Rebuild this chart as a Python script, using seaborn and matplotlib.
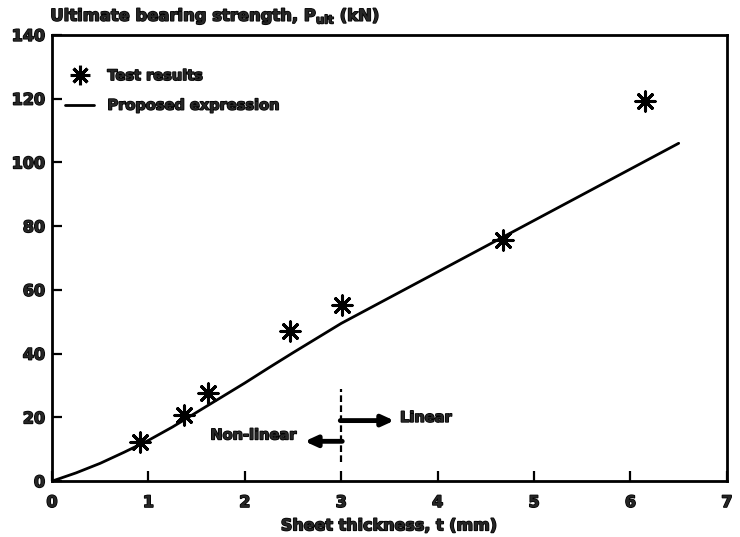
import matplotlib
matplotlib.use("Agg")
import matplotlib.pyplot as plt
import matplotlib.patheffects as pe
from matplotlib.lines import Line2D
import seaborn as sns
import pandas as pd

# Measured ultimate bearing strength
test_t = [0.91, 1.37, 1.62, 2.47, 3.01, 4.68, 6.15]
test_p = [12.2, 20.6, 27.6, 47.0, 55.3, 75.5, 119.2]

# Proposed design expression (non-linear up to t = 3 mm, linear beyond)
expr_t = [0.0, 0.25, 0.5, 0.75, 1.0, 1.25, 1.5, 1.75, 2.0, 2.25, 2.5, 2.75, 3.0, 6.5]
expr_p = [0.0, 2.6, 5.6, 9.1, 12.8, 17.0, 21.6, 26.2, 30.8, 35.6, 40.3, 44.9, 49.5, 106.0]

x_ticks = [0, 1, 2, 3, 4, 5, 6, 7]
y_ticks = [0, 20, 40, 60, 80, 100, 120, 140]

sns.set_style("ticks")
FONT = "DejaVu Sans"
plt.rcParams["font.family"] = [FONT]
plt.rcParams["font.weight"] = "bold"
plt.rcParams["mathtext.fontset"] = "custom"
plt.rcParams["mathtext.rm"] = f"{FONT}:bold"
plt.rcParams["mathtext.bf"] = f"{FONT}:bold"
plt.rcParams["mathtext.it"] = f"{FONT}:bold"

# thicken glyph outlines for a heavy look
HEAVY = [pe.withStroke(linewidth=1.1, foreground="black")]

tests = pd.DataFrame({"t": test_t, "P": test_p})
expr = pd.DataFrame({"t": expr_t, "P": expr_p})

fig = plt.figure(figsize=(7.4, 5.37), dpi=100)
ax = fig.add_axes([0.0703, 0.104, 0.912, 0.831])

STAR = (8, 2, 0)
sns.lineplot(data=expr, x="t", y="P", ax=ax, color="black", lw=2.0,
             sort=False, estimator=None)
sns.scatterplot(data=tests, x="t", y="P", ax=ax, marker=STAR, s=190,
                color="black", linewidth=2.2, edgecolor="black", zorder=3)

ax.set_xlim(0, 7)
ax.set_ylim(0, 140)
ax.set_xticks(x_ticks)
ax.set_yticks(y_ticks)
ax.set_xticklabels([str(v) for v in x_ticks], fontsize=11.5, fontweight="bold")
ax.set_yticklabels([str(v) for v in y_ticks], fontsize=11.5, fontweight="bold")
for lbl in ax.get_xticklabels() + ax.get_yticklabels():
    lbl.set_path_effects(HEAVY)
ax.tick_params(direction="in", length=7, width=1.6, color="black", pad=5)
ax.tick_params(axis="x", pad=10)
for sp in ax.spines.values():
    sp.set_linewidth(2.0)
    sp.set_color("black")

xl = ax.set_xlabel("Sheet thickness, t (mm)", fontsize=11.5, fontweight="bold",
                   labelpad=6)
xl.set_path_effects(HEAVY)
ax.set_ylabel("")
title = fig.text(0.068, 0.952, r"Ultimate bearing strength, P$_{\mathrm{ult}}$ (kN)",
                 fontsize=11.8, fontweight="bold", ha="left", va="bottom")
title.set_path_effects(HEAVY)

# Boundary between the non-linear and linear regions
ax.plot([3, 3], [6, 29], color="black", lw=1.6, ls=(0, (3, 1.5)))
arrow_style = dict(arrowstyle="-|>,head_length=0.7,head_width=0.32",
                   color="black", lw=3.5, shrinkA=0, shrinkB=0)
ax.annotate("", xy=(3.55, 19), xytext=(2.99, 19), arrowprops=arrow_style)
ax.annotate("", xy=(2.62, 12.5), xytext=(3.01, 12.5), arrowprops=arrow_style)
t1 = ax.text(3.61, 20.0, "Linear", fontsize=10.5, fontweight="bold",
             ha="left", va="center")
t2 = ax.text(2.54, 14.5, "Non-linear", fontsize=10.5, fontweight="bold",
             ha="right", va="center")
t1.set_path_effects(HEAVY)
t2.set_path_effects(HEAVY)

handles = [
    Line2D([], [], marker=STAR, ls="none", color="black", markersize=14,
           markeredgewidth=2.2),
    Line2D([], [], color="black", lw=2.0),
]
leg = ax.legend(handles, ["Test results", "Proposed expression"], loc="upper left",
                bbox_to_anchor=(0.0, 0.955), frameon=False, handlelength=2.0,
                handletextpad=0.9, labelspacing=1.0,
                prop={"family": FONT, "weight": "bold", "size": 10.5})
for txt in leg.get_texts():
    txt.set_path_effects(HEAVY)

fig.savefig("out.png", dpi=100, facecolor="white")
